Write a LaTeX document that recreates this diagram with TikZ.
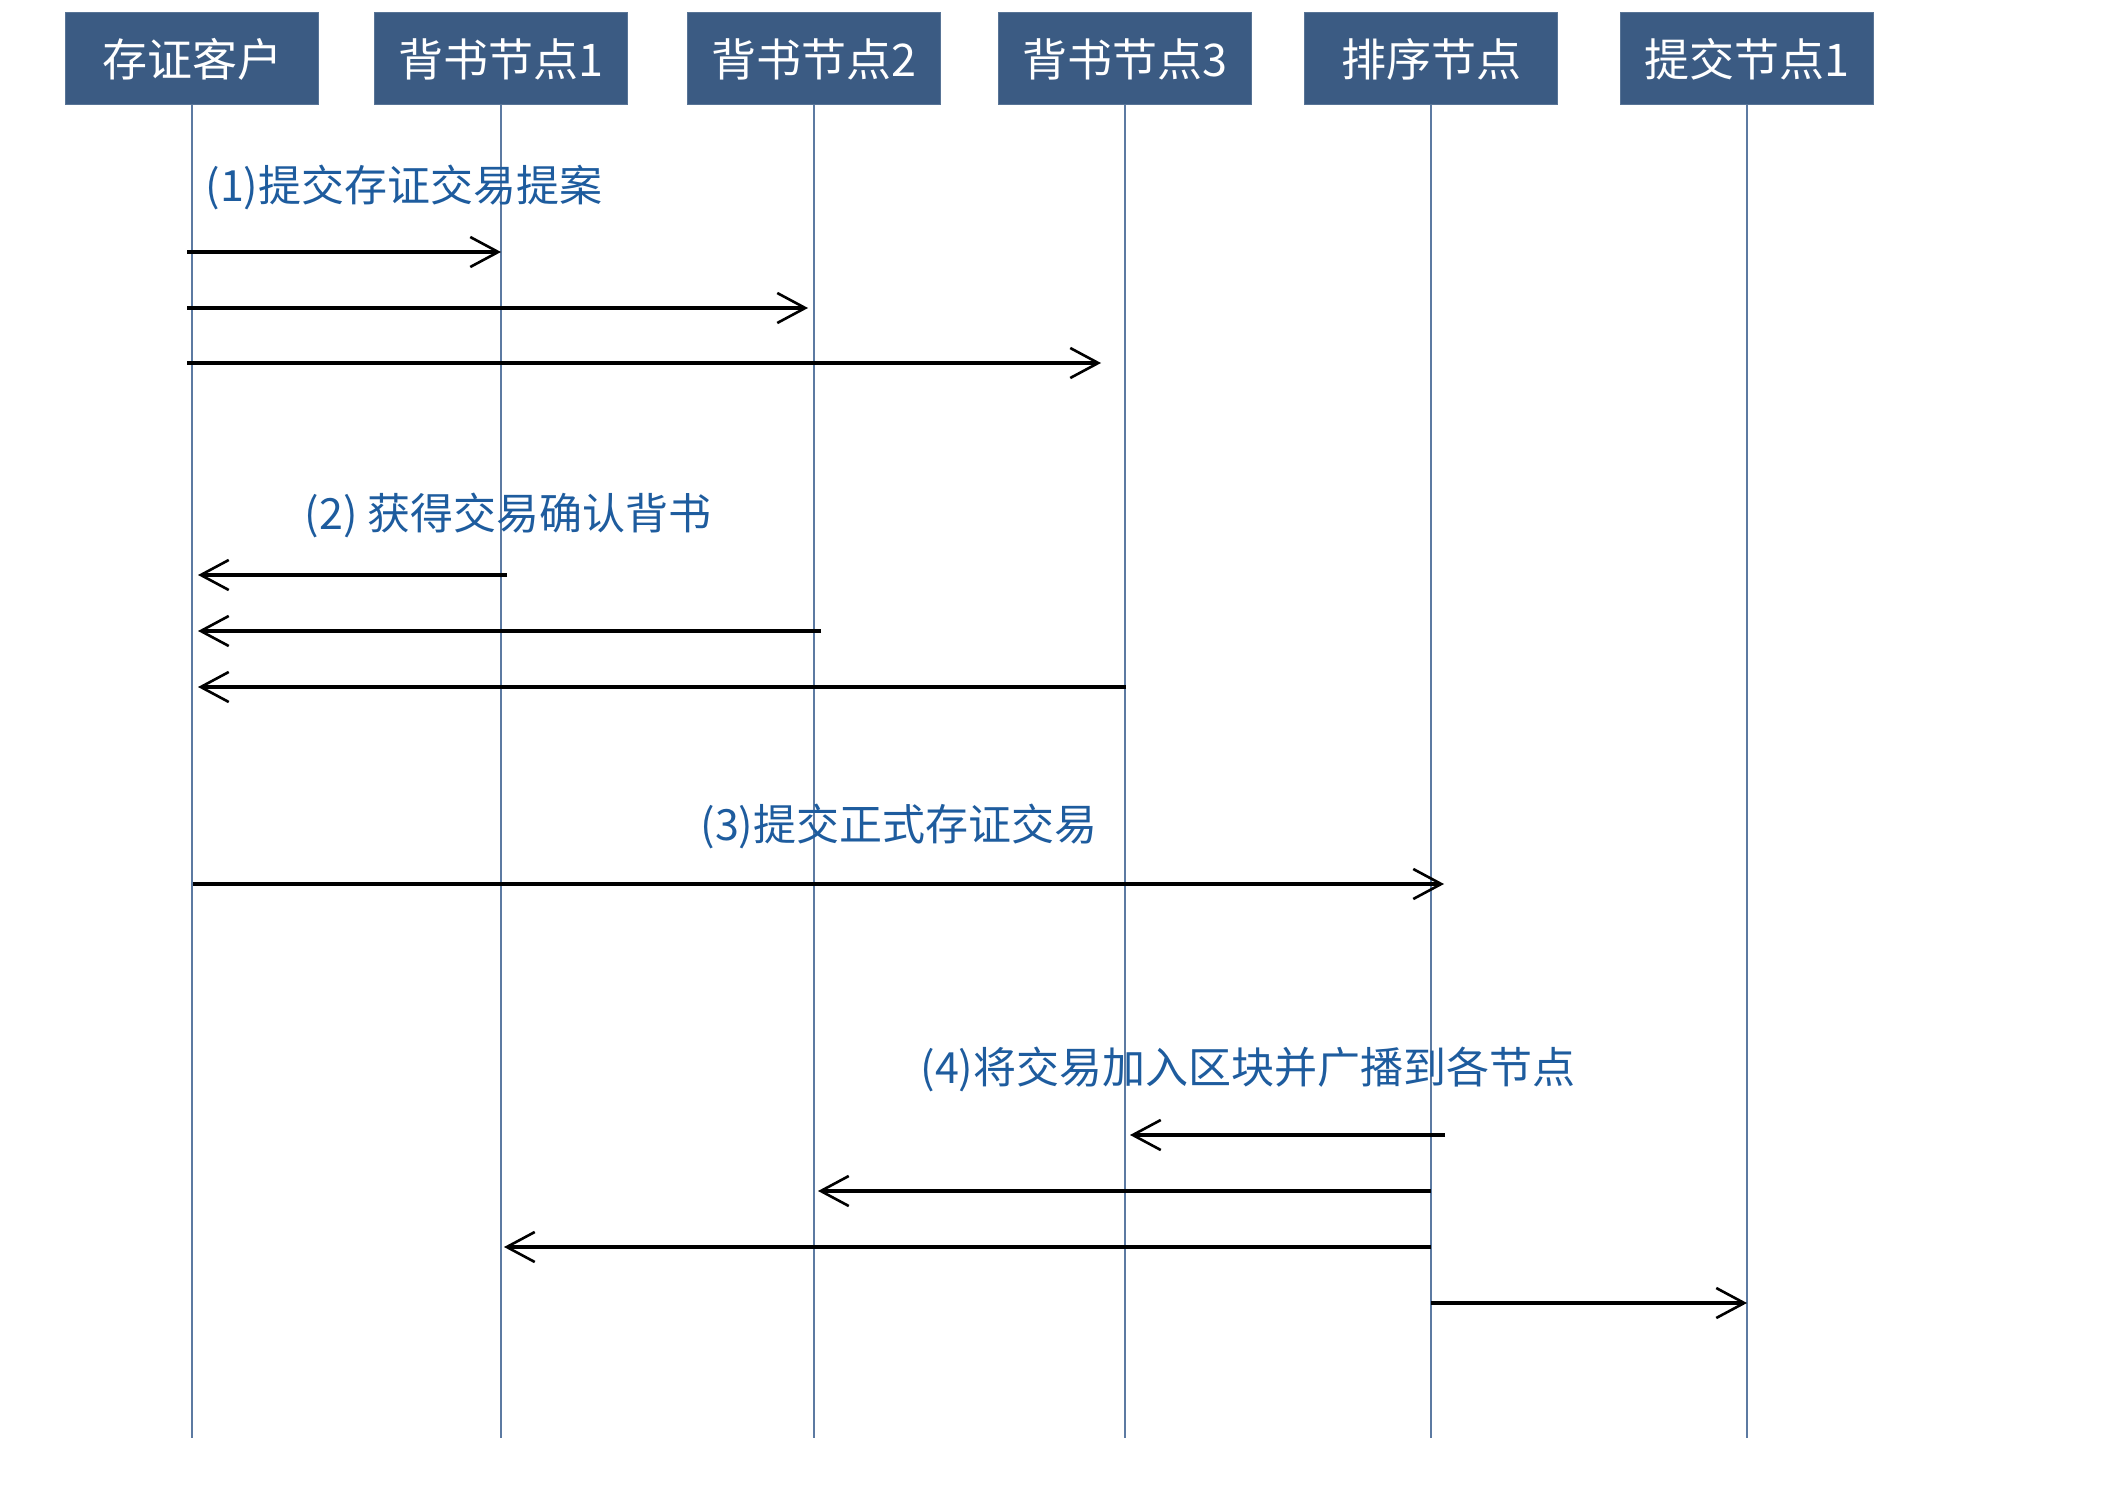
\documentclass[tikz,border=0pt]{standalone}
\usepackage{fontspec}
\usetikzlibrary{arrows.meta}
\newfontfamily\cjk{Noto Sans CJK SC}
\definecolor{boxblue}{RGB}{59,91,131}
\definecolor{lifeblue}{RGB}{92,122,162}
\definecolor{labelblue}{RGB}{30,92,158}
\begin{document}
\begin{tikzpicture}[x=0.5pt,y=-0.5pt,
  actor/.style={fill=boxblue, draw=boxblue!85!white, line width=0.5pt,
    minimum width=126.5pt, minimum height=46pt, inner sep=0pt,
    text=white, font=\cjk\fontsize{22.5pt}{24pt}\selectfont},
  life/.style={draw=lifeblue, line width=1pt},
  msg/.style={draw=black, line width=1.7pt,
    -{Straight Barb[length=14pt,width=15pt,line width=1.3pt]}},
  lbl/.style={text=labelblue, inner sep=0pt,
    font=\cjk\fontsize{21.5pt}{23pt}\selectfont}]
\useasboundingbox (0,0) rectangle (2110,1487);
\fill[white] (0,0) rectangle (2110,1487);

% actor boxes
\node[actor] (b1) at (192,59)  {存证客户};
\node[actor] (b2) at (501,59)  {背书节点1};
\node[actor] (b3) at (814,59)  {背书节点2};
\node[actor] (b4) at (1125,59) {背书节点3};
\node[actor] (b5) at (1431,59) {排序节点};
\node[actor] (b6) at (1747,59) {提交节点1};

% lifeline ends
\coordinate (l1) at (192,1438);
\coordinate (l2) at (501,1438);
\coordinate (l3) at (814,1438);
\coordinate (l4) at (1125,1438);
\coordinate (l5) at (1431,1438);
\coordinate (l6) at (1747,1438);
\foreach \i in {1,...,6} { \draw[life] (b\i.south) -- (l\i); }

% (1)
\node[lbl] (t1) at (404,187) {(1)提交存证交易提案};
\coordinate (p1s) at (187,252);  \coordinate (p1e) at (501,252);
\coordinate (p2s) at (187,308);  \coordinate (p2e) at (808,308);
\coordinate (p3s) at (187,363);  \coordinate (p3e) at (1101,363);
\draw[msg] (p1s) -- (p1e);
\draw[msg] (p2s) -- (p2e);
\draw[msg] (p3s) -- (p3e);

% (2)
\node[lbl] (t2) at (508,515) {(2) 获得交易确认背书};
\coordinate (r1s) at (507,575);  \coordinate (r1e) at (198,575);
\coordinate (r2s) at (821,631);  \coordinate (r2e) at (198,631);
\coordinate (r3s) at (1126,687); \coordinate (r3e) at (198,687);
\draw[msg] (r1s) -- (r1e);
\draw[msg] (r2s) -- (r2e);
\draw[msg] (r3s) -- (r3e);

% (3)
\node[lbl] (t3) at (899,826) {(3)提交正式存证交易};
\coordinate (q1s) at (193,884);  \coordinate (q1e) at (1444,884);
\draw[msg] (q1s) -- (q1e);

% (4)
\node[lbl] (t4) at (1248,1069) {(4)将交易加入区块并广播到各节点};
\coordinate (s1s) at (1445,1135); \coordinate (s1e) at (1130,1135);
\coordinate (s2s) at (1431,1191); \coordinate (s2e) at (818,1191);
\coordinate (s3s) at (1431,1247); \coordinate (s3e) at (504,1247);
\coordinate (s4s) at (1431,1303); \coordinate (s4e) at (1747,1303);
\draw[msg] (s1s) -- (s1e);
\draw[msg] (s2s) -- (s2e);
\draw[msg] (s3s) -- (s3e);
\draw[msg] (s4s) -- (s4e);
\end{tikzpicture}
\end{document}
